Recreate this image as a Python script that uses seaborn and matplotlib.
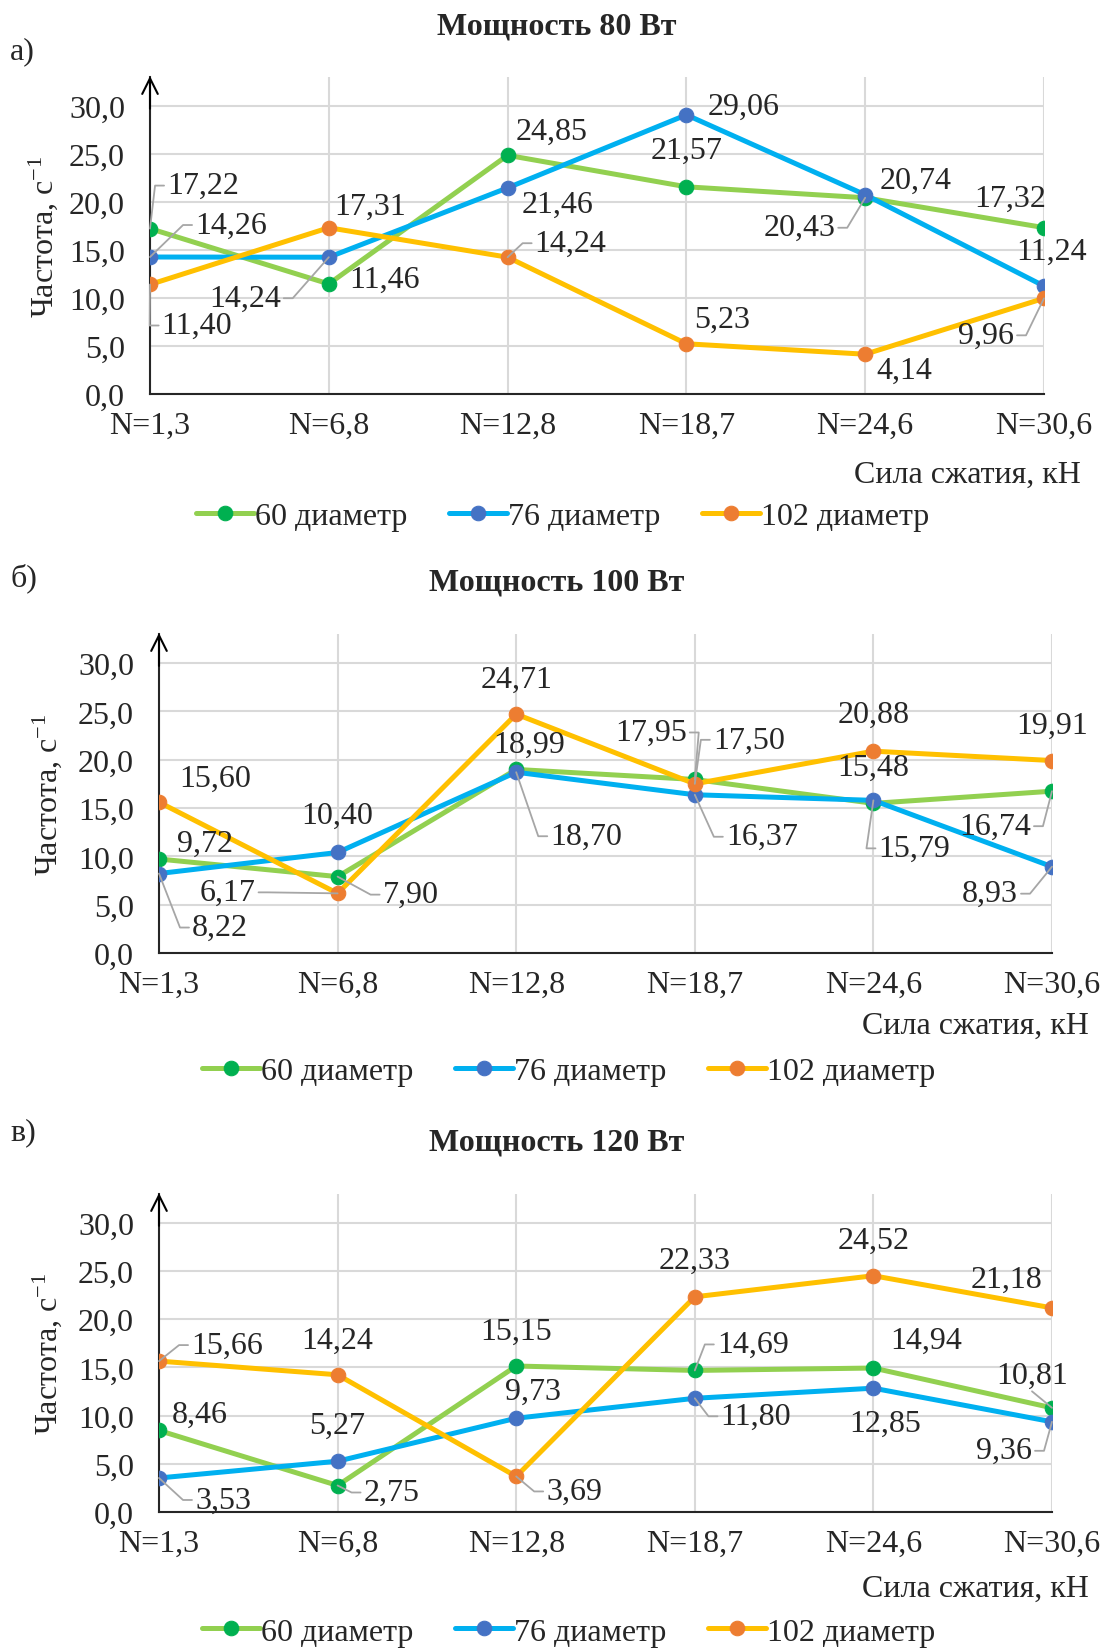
import numpy as np
import pandas as pd
import seaborn as sns
import matplotlib.pyplot as plt
from matplotlib.lines import Line2D
from matplotlib.transforms import IdentityTransform
from matplotlib.ticker import FuncFormatter

categories = ["N=1,3", "N=6,8", "N=12,8", "N=18,7", "N=24,6", "N=30,6"]
series_names = ["60 диаметр", "76 диаметр", "102 диаметр"]
titles = ["Мощность 80 Вт", "Мощность 100 Вт", "Мощность 120 Вт"]
letters = ["а)", "б)", "в)"]

# 80 Вт
p80_d60 = [17.22, 11.46, 24.85, 21.57, 20.43, 17.32]
p80_d76 = [14.26, 14.24, 21.46, 29.06, 20.74, 11.24]
p80_d102 = [11.40, 17.31, 14.24, 5.23, 4.14, 9.96]
# 100 Вт
p100_d60 = [9.72, 7.90, 18.99, 17.95, 15.48, 16.74]
p100_d76 = [8.22, 10.40, 18.70, 16.37, 15.79, 8.93]
p100_d102 = [15.60, 6.17, 24.71, 17.50, 20.88, 19.91]
# 120 Вт
p120_d60 = [8.46, 2.75, 15.15, 14.69, 14.94, 10.81]
p120_d76 = [3.53, 5.27, 9.73, 11.80, 12.85, 9.36]
p120_d102 = [15.66, 14.24, 3.69, 22.33, 24.52, 21.18]

line_colors = ["#92D050", "#00B0F0", "#FFC000"]
marker_colors = ["#00B050", "#4472C4", "#ED7D31"]

# label offsets in pixels (dx, dy down), leader line flag
off80 = [
    [(53, -43, 1), (56, -5, 0), (44, -24, 0), (0, -36, 0), (-66, 30, 1), (-34, -29, 0)],
    [(81, -32, 1), (-84, 41, 1), (50, 16, 0), (57, -9, 0), (50, -14, 0), (8, -35, 0)],
    [(47, 41, 1), (41, -21, 0), (63, -14, 1), (36, -24, 0), (39, 16, 0), (-58, 37, 1)],
]
off100 = [
    [(46, -16, 0), (73, 18, 1), (13, -25, 0), (-44, -47, 1), (0, -36, 0), (-57, 35, 1)],
    [(61, 54, 1), (0, -37, 0), (70, 64, 1), (67, 42, 1), (41, 48, 1), (-62, 27, 1)],
    [(56, -24, 0), (-110, -1, 1), (0, -35, 0), (54, -44, 1), (0, -37, 0), (0, -35, 0)],
]
off120 = [
    [(41, -16, 0), (54, 7, 1), (0, -35, 0), (58, -26, 1), (53, -28, 0), (-20, -33, 1)],
    [(64, 22, 1), (0, -36, 0), (17, -27, 0), (61, 18, 1), (12, 35, 0), (-48, 29, 1)],
    [(68, -16, 1), (0, -34, 0), (58, 15, 1), (0, -36, 0), (0, -35, 0), (-46, -29, 0)],
]

sns.set_style("white")
plt.rcParams["font.family"] = ["Liberation Serif", "DejaVu Serif"]
plt.rcParams["mathtext.fontset"] = "custom"
plt.rcParams["mathtext.rm"] = "Liberation Serif"
plt.rcParams["mathtext.it"] = "Liberation Serif:italic"

FS = 23
leaders = []


def comma(v, nd):
    return f"{v:.{nd}f}".replace(".", ",")


def draw_panel(ax, data, offsets, ylab_x, xlab_y, leg_pos):
    x = np.arange(len(categories))
    for i, vals in enumerate(data):
        df = pd.DataFrame({"x": x, "y": vals})
        sns.lineplot(data=df, x="x", y="y", ax=ax, color=line_colors[i], lw=3.6,
                     marker="o", markersize=10.5, markerfacecolor=marker_colors[i],
                     markeredgecolor=marker_colors[i], label=series_names[i], zorder=3)
        for j, v in enumerate(vals):
            dx, dy, lead = offsets[i][j]
            t = ax.annotate(comma(v, 2), xy=(j, v), xytext=(dx, -dy), textcoords="offset pixels",
                            ha="center", va="center", fontsize=FS, zorder=5)
            if lead:
                leaders.append((ax, t, j, v))
    ax.set_xlim(0, 5)
    ax.set_ylim(0, 33)
    ax.set_xticks(x)
    ax.set_xticklabels(categories, fontsize=FS)
    ax.set_yticks(np.arange(0, 31, 5))
    ax.yaxis.set_major_formatter(FuncFormatter(lambda v, p: comma(v, 1)))
    ax.tick_params(axis="y", length=0, pad=18, labelsize=FS)
    ax.tick_params(axis="x", direction="inout", length=14, width=1.5, pad=5)
    ax.grid(True, color="#d9d9d9", lw=1.5)
    ax.set_axisbelow(True)
    for s in ["top", "right"]:
        ax.spines[s].set_visible(False)
    ax.spines["left"].set_linewidth(1.5)
    ax.spines["bottom"].set_linewidth(1.5)
    ax.annotate("", xy=(0, 1.003), xycoords="axes fraction", xytext=(0, 0.9),
                arrowprops=dict(arrowstyle="->", lw=1.5, color="black", mutation_scale=28,
                                shrinkA=0, shrinkB=0), annotation_clip=False)
    ax.set_xlabel("")
    ax.set_ylabel("Частота, с$^{-1}$", fontsize=FS)
    ax.yaxis.set_label_coords(ylab_x, 0.5)
    ax.text(1.041, xlab_y, "Сила сжатия, кН", transform=ax.transAxes, ha="right",
            va="center", fontsize=FS)
    ax.legend(loc="center", bbox_to_anchor=leg_pos, ncol=3, frameon=False, fontsize=FS,
              handlelength=1.8, handletextpad=0.05, columnspacing=1.3, borderaxespad=0)


fig = plt.figure(figsize=(11.05, 16.49), dpi=100)
H = 1649.0
W = 1105.0
layout = [
    # left px, right px, zero px, top px
    (150, 1044, 395, 78),
    (159, 1052, 954, 635),
    (159, 1052, 1513, 1195),
]
panels = [
    [p80_d60, p80_d76, p80_d102],
    [p100_d60, p100_d76, p100_d102],
    [p120_d60, p120_d76, p120_d102],
]
all_offsets = [off80, off100, off120]
ylab_xs = [-0.101, -0.106, -0.106]
xlab_ys = [-0.252, -0.226, -0.239]
leg_pos = [(0.462, -0.385), (0.459, -0.37), (0.459, -0.377)]
title_y = [27, 583, 1143]
letter_y = [52, 578, 1133]

for k in range(3):
    l, r, z, t = layout[k]
    ax = fig.add_axes([l / W, 1 - z / H, (r - l) / W, (z - t) / H])
    draw_panel(ax, panels[k], all_offsets[k], ylab_xs[k], xlab_ys[k], leg_pos[k])
    fig.text(557 / W, 1 - title_y[k] / H, titles[k], ha="center", va="center",
             fontsize=FS, fontweight="bold")
    fig.text(10 / W, 1 - letter_y[k] / H, letters[k], ha="left", va="center", fontsize=FS)

# leader lines: short horizontal stub at the label, then straight to the point
fig.canvas.draw()
rend = fig.canvas.get_renderer()
for ax, t, j, v in leaders:
    bb = t.get_window_extent(rend)
    px, py = ax.transData.transform((j, v))
    cy = (bb.y0 + bb.y1) / 2
    if px < bb.x0 - 4:
        ex = bb.x0 - 3
        xs, ys = [ex, ex - 9, px], [cy, cy, py]
    elif px > bb.x1 + 4:
        ex = bb.x1 + 3
        xs, ys = [ex, ex + 9, px], [cy, cy, py]
    else:
        ey = bb.y0 - 2 if py < bb.y0 else bb.y1 + 2
        ex = (bb.x0 + bb.x1) / 2
        xs, ys = [ex, px], [ey, py]
    fig.add_artist(Line2D(xs, ys, transform=IdentityTransform(), color="#a6a6a6",
                          lw=1.3, zorder=4))

fig.savefig("out.png", dpi=100)
